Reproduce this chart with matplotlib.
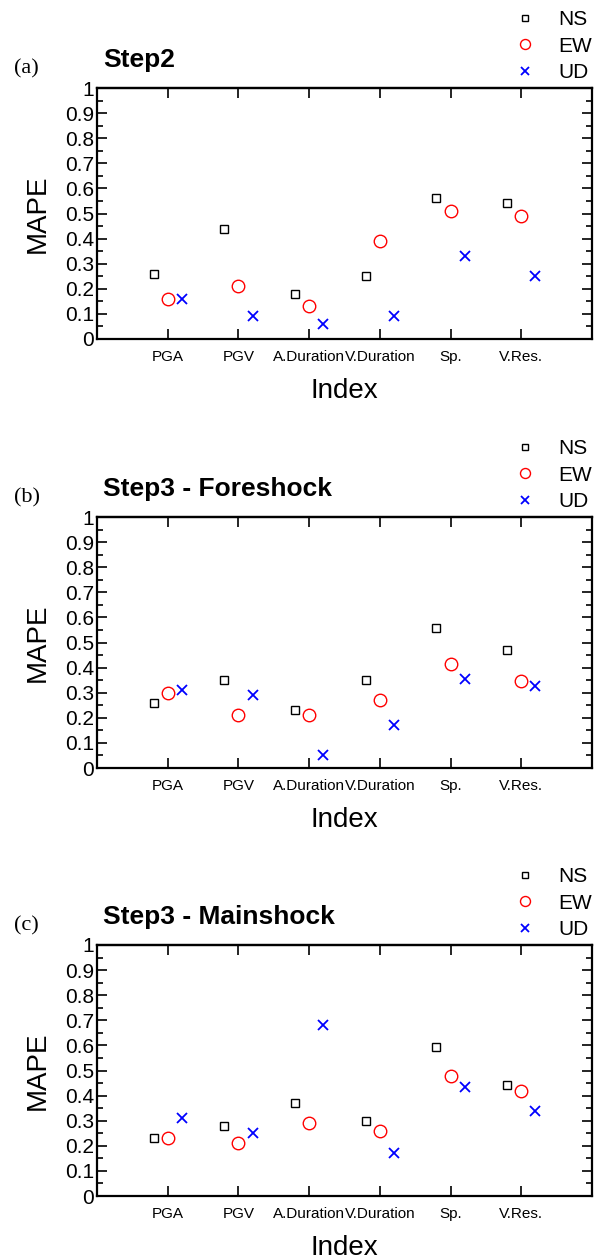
import matplotlib
matplotlib.use("Agg")
import matplotlib.pyplot as plt
import numpy as np
from matplotlib.ticker import MultipleLocator

categories = ["PGA", "PGV", "A.Duration", "V.Duration", "Sp.", "V.Res."]
panel_tags = ["(a)", "(b)", "(c)"]
panel_titles = ["Step2", "Step3 - Foreshock", "Step3 - Mainshock"]
ytick_labels = ["0", "0.1", "0.2", "0.3", "0.4", "0.5", "0.6", "0.7", "0.8", "0.9", "1"]

ns_a = [0.26, 0.44, 0.18, 0.25, 0.56, 0.54]
ew_a = [0.16, 0.21, 0.13, 0.39, 0.51, 0.49]
ud_a = [0.16, 0.09, 0.06, 0.09, 0.33, 0.25]

ns_b = [0.26, 0.35, 0.23, 0.35, 0.556, 0.47]
ew_b = [0.30, 0.21, 0.21, 0.27, 0.415, 0.345]
ud_b = [0.31, 0.29, 0.05, 0.17, 0.353, 0.325]

ns_c = [0.23, 0.28, 0.37, 0.30, 0.595, 0.444]
ew_c = [0.23, 0.21, 0.29, 0.26, 0.477, 0.417]
ud_c = [0.31, 0.25, 0.68, 0.17, 0.434, 0.338]

panels = [(ns_a, ew_a, ud_a), (ns_b, ew_b, ud_b), (ns_c, ew_c, ud_c)]

SANS = ["Liberation Sans", "DejaVu Sans"]
plt.rcParams["font.family"] = SANS

W, H = 600, 1259
fig = plt.figure(figsize=(W / 100, H / 100), dpi=100)

ax_left, ax_right = 97, 592
tops = [88, 517, 945]
ax_h = 251

for i, (ns, ew, ud) in enumerate(panels):
    top = tops[i]
    ax = fig.add_axes([ax_left / W, 1 - (top + ax_h) / H, (ax_right - ax_left) / W, ax_h / H])
    x = np.arange(1, len(categories) + 1)
    h1, = ax.plot(x - 0.2, ns, linestyle="none", marker="s", markersize=6,
                  markerfacecolor="none", markeredgecolor="black", markeredgewidth=1.0, label="NS")
    h2, = ax.plot(x, ew, linestyle="none", marker="o", markersize=9,
                  markerfacecolor="none", markeredgecolor="red", markeredgewidth=1.0, label="EW")
    h3, = ax.plot(x + 0.2, ud, linestyle="none", marker="x", markersize=7,
                  color="blue", markeredgewidth=1.3, label="UD")
    ax.set_xlim(0, 7)
    ax.set_ylim(0, 1)
    ax.set_xticks(x)
    ax.set_xticklabels(categories, fontsize=11)
    ax.set_yticks(np.linspace(0, 1, len(ytick_labels)))
    ax.set_yticklabels(ytick_labels, fontsize=15)
    ax.yaxis.set_minor_locator(MultipleLocator(0.05))
    ax.tick_params(axis="y", which="both", direction="in", left=True, right=True, labelright=False, pad=2)
    ax.tick_params(axis="y", which="major", length=7, width=1.2)
    ax.tick_params(axis="y", which="minor", length=4, width=1.2)
    ax.tick_params(axis="x", which="major", direction="in", length=7, width=1.2, top=False, pad=8)
    sec = ax.secondary_xaxis("top")
    sec.set_xticks(np.arange(0, 8))
    sec.tick_params(axis="x", direction="in", length=7, width=1.2, labeltop=False)
    for s in ax.spines.values():
        s.set_linewidth(1.6)
    sec.spines["top"].set_linewidth(1.6)
    ax.set_ylabel("MAPE", fontsize=20, labelpad=10)
    ax.set_xlabel("Index", fontsize=20, labelpad=10)
    ax.text(103 / W, 1 - (top - 28) / H, panel_titles[i], transform=fig.transFigure,
            fontsize=19, fontweight="bold", va="center", ha="left")
    ax.text(14 / W, 1 - (top - 19) / H, panel_tags[i], transform=fig.transFigure,
            fontsize=16, family=["Liberation Serif", "DejaVu Serif"], va="center", ha="left")
    leg = fig.legend(handles=[h1, h2, h3], loc="upper right",
                     bbox_to_anchor=(600 / W, 1 - (top - 86) / H),
                     frameon=False, fontsize=15, handlelength=1.0, handletextpad=1.1,
                     labelspacing=0.35, borderaxespad=0, markerscale=0.8)

fig.savefig("out.png", dpi=100)
